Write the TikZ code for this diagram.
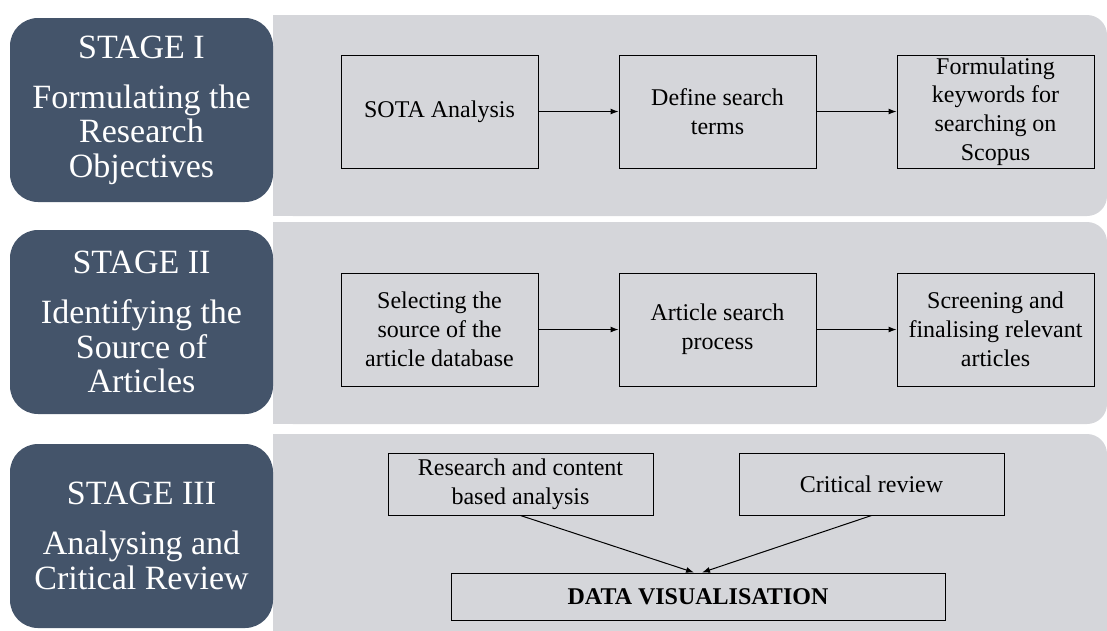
\documentclass[tikz,border=0pt]{standalone}
\usepackage{fontspec}
\setmainfont{Liberation Serif}
\usetikzlibrary{positioning, arrows.meta}
\definecolor{stageblue}{RGB}{68,84,106}
\definecolor{panelgray}{RGB}{213,214,218}

\begin{document}
\begin{tikzpicture}[
    x=1pt, y=-1pt, >=Latex, node distance=80pt,
    stage/.style={rectangle, fill=stageblue, rounded corners=28pt, text=white,
                  minimum width=263pt, minimum height=184pt, align=center,
                  inner sep=0pt, font=\fontsize{34}{34.5}\selectfont},
    box/.style={rectangle, draw, line width=1pt, minimum width=197pt,
                minimum height=113pt, align=center, inner sep=0pt,
                font=\fontsize{24}{28.8}\selectfont},
    wide/.style={box, minimum width=265pt, minimum height=62pt},
    result/.style={box, minimum width=494pt, minimum height=47pt,
                   font=\fontsize{24}{28.8}\selectfont\bfseries},
    arrow/.style={-{Latex[length=8pt, width=6pt]}, line width=1pt}
]
  \useasboundingbox (0,0) rectangle (1107,630);
  % grey bands, rounded on the right only
  \foreach \top/\bot in {15/216, 222/424, 434/650} {
    \fill[panelgray, rounded corners=20pt] (273,\top) rectangle (1107,\bot);
    \fill[panelgray] (273,\top) rectangle (700,\bot);
  }

  \node[stage] (s1) at (141.5,110) {STAGE I\\[15.5pt]Formulating the\\Research\\Objectives};
  \node[stage] (s2) at (141.5,322) {STAGE II\\[15.5pt]Identifying the\\Source of\\Articles};
  \node[stage] (s3) at (141.5,536) {STAGE III\\[15.5pt]Analysing and\\Critical Review};

  % stage I
  \node[box] (sota) at (439.5,111.5) {SOTA Analysis};
  \node[box, right=of sota] (terms) {Define search\\terms};
  \node[box, right=of terms] (keys) {Formulating\\keywords for\\searching on\\Scopus};

  % stage II
  \node[box] (source) at (439.5,329.5) {Selecting the\\source of the\\article database};
  \node[box, right=of source] (search) {Article search\\process};
  \node[box, right=of search] (screen) {Screening and\\finalising relevant\\articles};

  % stage III
  \node[wide] (content) at (520.5,484) {Research and content\\based analysis};
  \node[wide, right=85pt of content] (review) {Critical review};
  \node[result] (viz) at (698,596.5) {DATA VISUALISATION};

  \draw[arrow] (sota) -- (terms);
  \draw[arrow] (terms) -- (keys);
  \draw[arrow] (source) -- (search);
  \draw[arrow] (search) -- (screen);
  \draw[arrow] (content.south) -- ([xshift=-4pt]viz.north);
  \draw[arrow] (review.south) -- ([xshift=4pt]viz.north);
\end{tikzpicture}
\end{document}
